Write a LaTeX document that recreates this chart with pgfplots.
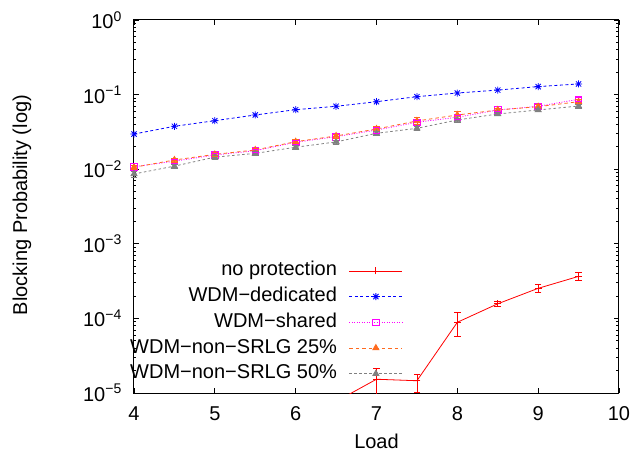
\documentclass[border=0pt]{standalone}
\usepackage{fontspec}
\setmainfont{Liberation Sans}
\usepackage{pgfplots}
\usepackage{pgfplotstable}
\pgfplotsset{compat=1.18}
\definecolor{gpblue}{HTML}{0000FF}
\definecolor{gpmag}{HTML}{FF00FF}
\definecolor{gporange}{HTML}{FF6A1F}
\definecolor{gpgray}{HTML}{808080}

% gnuplot style star mark (plus + cross)
\pgfdeclareplotmark{gpstar}{%
  \pgfpathmoveto{\pgfqpoint{-\pgfplotmarksize}{0pt}}%
  \pgfpathlineto{\pgfqpoint{\pgfplotmarksize}{0pt}}%
  \pgfpathmoveto{\pgfqpoint{0pt}{-\pgfplotmarksize}}%
  \pgfpathlineto{\pgfqpoint{0pt}{\pgfplotmarksize}}%
  \pgfpathmoveto{\pgfqpoint{-0.75\pgfplotmarksize}{-0.75\pgfplotmarksize}}%
  \pgfpathlineto{\pgfqpoint{0.75\pgfplotmarksize}{0.75\pgfplotmarksize}}%
  \pgfpathmoveto{\pgfqpoint{-0.75\pgfplotmarksize}{0.75\pgfplotmarksize}}%
  \pgfpathlineto{\pgfqpoint{0.75\pgfplotmarksize}{-0.75\pgfplotmarksize}}%
  \pgfusepathqstroke}

% mean blocking probability per load
\pgfplotstableread{
x   y
6.5 7.7e-6
7   1.53e-5
7.5 1.46e-5
8   8.87e-5
8.5 1.57e-4
9   2.53e-4
9.5 3.66e-4
}\noprot
\pgfplotstableread{
x   y
4   0.0296
4.5 0.0376
5   0.0447
5.5 0.0533
6   0.0628
6.5 0.0697
7   0.0803
7.5 0.0938
8   0.105
8.5 0.115
9   0.128
9.5 0.139
}\dedicated
\pgfplotstableread{
x   y
4   0.0108
4.5 0.0128
5   0.0155
5.5 0.0177
6   0.0230
6.5 0.0273
7   0.0335
7.5 0.0426
8   0.0497
8.5 0.0622
9   0.0697
9.5 0.0865
}\shared
\pgfplotstableread{
x   y
4   0.0106
4.5 0.0133
5   0.0158
5.5 0.0181
6   0.0234
6.5 0.0279
7   0.0346
7.5 0.0443
8   0.0533
8.5 0.0622
9   0.0689
9.5 0.0803
}\nonsrlgA
\pgfplotstableread{
x   y
4   0.00863
4.5 0.0110
5   0.0145
5.5 0.0163
6   0.0197
6.5 0.0232
7   0.0303
7.5 0.0353
8   0.0457
8.5 0.0550
9   0.0622
9.5 0.0703
}\nonsrlgB

% error bars: low / high end for each load, nan breaks the line
\pgfplotstableread{
x   y
7   0.93e-5
7   2.14e-5
7   nan
7.5 1.03e-5
7.5 1.80e-5
7.5 nan
8   5.77e-5
8   1.207e-4
8   nan
8.5 1.47e-4
8.5 1.68e-4
8.5 nan
9   2.24e-4
9   2.86e-4
9   nan
9.5 3.24e-4
9.5 4.15e-4
}\noproterr
\pgfplotstableread{
x   y
4   0.0098
4   0.0118
4   nan
4.5 0.0120
4.5 0.0136
4.5 nan
5   0.0147
5   0.0163
5   nan
5.5 0.0167
5.5 0.0187
5.5 nan
6   0.0217
6   0.0243
6   nan
6.5 0.0257
6.5 0.0289
6.5 nan
7   0.0305
7   0.0365
7   nan
7.5 0.0396
7.5 0.0456
7.5 nan
8   0.0467
8   0.0527
8   nan
8.5 0.0587
8.5 0.0657
8.5 nan
9   0.0657
9   0.0737
9   nan
9.5 0.0815
9.5 0.0915
}\sharederr
\pgfplotstableread{
x   y
4   0.0098
4   0.0114
4   nan
4.5 0.0125
4.5 0.0141
4.5 nan
5   0.0149
5   0.0167
5   nan
5.5 0.0171
5.5 0.0191
5.5 nan
6   0.0220
6   0.0248
6   nan
6.5 0.0261
6.5 0.0297
6.5 nan
7   0.0321
7   0.0371
7   nan
7.5 0.0398
7.5 0.0488
7.5 nan
8   0.0473
8   0.0593
8   nan
8.5 0.0582
8.5 0.0662
8.5 nan
9   0.0649
9   0.0729
9   nan
9.5 0.0753
9.5 0.0853
}\nonsrlgAerr
\pgfplotstableread{
x   y
4   0.0078
4   0.0094
4   nan
4.5 0.0103
4.5 0.0117
4.5 nan
5   0.0137
5   0.0153
5   nan
5.5 0.0154
5.5 0.0172
5.5 nan
6   0.0185
6   0.0209
6   nan
6.5 0.0218
6.5 0.0246
6.5 nan
7   0.0283
7   0.0323
7   nan
7.5 0.0328
7.5 0.0378
7.5 nan
8   0.0427
8   0.0487
8   nan
8.5 0.0520
8.5 0.0580
8.5 nan
9   0.0587
9   0.0657
9   nan
9.5 0.0663
9.5 0.0743
}\nonsrlgBerr

\begin{document}
\begin{tikzpicture}[font=\fontsize{20bp}{24bp}\selectfont]
\path[use as bounding box] (-134bp,-59bp) rectangle (497bp,393bp);
\begin{axis}[
  at={(0,0)}, anchor=south west,
  scale only axis,
  width=485bp, height=373bp,
  ymode=log,
  xmin=4, xmax=10, ymin=1e-5, ymax=1,
  xtick={4,5,...,10},
  ytick={1e-5,1e-4,1e-3,1e-2,1e-1,1},
  yticklabels={10\textsuperscript{−5},10\textsuperscript{−4},10\textsuperscript{−3},10\textsuperscript{−2},10\textsuperscript{−1},10\textsuperscript{0}},
  /pgf/number format/assume math mode=true,
  tick align=inside,
  major tick length=5bp,
  minor tick length=2.5bp,
  tick style={black, line width=0.8bp},
  axis line style={line width=1bp},
  xticklabel style={inner sep=0pt, anchor=north, yshift=-13.5bp},
  yticklabel style={inner sep=0pt, anchor=east, xshift=-12bp},
  xlabel={Load},
  ylabel={Blocking Probability (log)},
  x label style={at={(axis description cs:0.5,0)}, anchor=north, inner sep=0pt, yshift=-41bp},
  y label style={at={(axis description cs:-0.231,0.504)}, anchor=center, inner sep=0pt},
  legend cell align=right,
  legend plot pos=right,
  legend style={draw=none, fill=none, at={(0.5546,0.352)}, anchor=north east,
    inner xsep=0pt, inner ysep=0pt, row sep=7.7bp, column sep=12bp,
    nodes={inner sep=0pt, text height=14bp, text depth=4bp}},
  legend image code/.code={\draw[mark repeat=2, mark phase=2, #1] plot coordinates {(0bp,0bp) (26.5bp,0bp) (53bp,0bp)};},
  unbounded coords=jump,
  errbar/.style={solid, line width=0.8bp, mark=-, mark size=3.3bp, forget plot},
  bluestyle/.style={color=gpblue, line width=0.8bp, dash pattern=on 3bp off 2.5bp, mark=gpstar, mark size=3.5bp, mark options={solid}},
  magstyle/.style={color=gpmag, line width=0.8bp, dash pattern=on 1bp off 1.5bp, mark=square, mark size=3.3bp, mark options={solid}},
  orangestyle/.style={color=gporange, line width=0.8bp, dash pattern=on 3.5bp off 3bp, mark=triangle*, mark size=3.5bp, mark options={solid}},
  graystyle/.style={color=gpgray, line width=0.8bp, dash pattern=on 2.5bp off 2.5bp, mark=triangle*, mark size=3.5bp, mark options={solid}},
]
% red sample drawn as plain strokes: line with a plus in the middle
\addlegendimage{legend image code/.code={%
  \draw[red, line width=0.8bp] (0bp,0bp) -- (53bp,0bp);
  \draw[red, line width=0.8bp] (26.5bp,-3.5bp) -- (26.5bp,3.5bp);}}
\addlegendentry{no protection}
\addlegendimage{bluestyle}
\addlegendentry{WDM−dedicated}
\addlegendimage{magstyle}
\addlegendentry{WDM−shared}
\addlegendimage{orangestyle}
\addlegendentry{WDM−non−SRLG 25\%}
\addlegendimage{graystyle}
\addlegendentry{WDM−non−SRLG 50\%}

\addplot[bluestyle, forget plot] table[x=x, y=y] {\dedicated};
\addplot[magstyle, forget plot] table[x=x, y=y] {\shared};
\addplot[orangestyle, forget plot] table[x=x, y=y] {\nonsrlgA};
\addplot[graystyle, forget plot] table[x=x, y=y] {\nonsrlgB};
\addplot[color=gpmag, errbar] table[x=x, y=y] {\sharederr};
\addplot[color=gporange, errbar] table[x=x, y=y] {\nonsrlgAerr};
\addplot[color=gpgray, errbar] table[x=x, y=y] {\nonsrlgBerr};
% no protection: line, then the plus marks as a bar and a dash
\addplot[red, solid, line width=0.8bp, no marks, forget plot] table[x=x, y=y] {\noprot};
\addplot[red, only marks, mark=-, mark size=3.5bp, mark options={solid, line width=0.8bp}, forget plot] table[x=x, y=y] {\noprot};
\addplot[red, only marks, mark=|, mark size=3.5bp, mark options={solid, line width=0.8bp}, forget plot] table[x=x, y=y] {\noprot};
\addplot[color=red, errbar] table[x=x, y=y] {\noproterr};
\end{axis}
\end{tikzpicture}
\end{document}
